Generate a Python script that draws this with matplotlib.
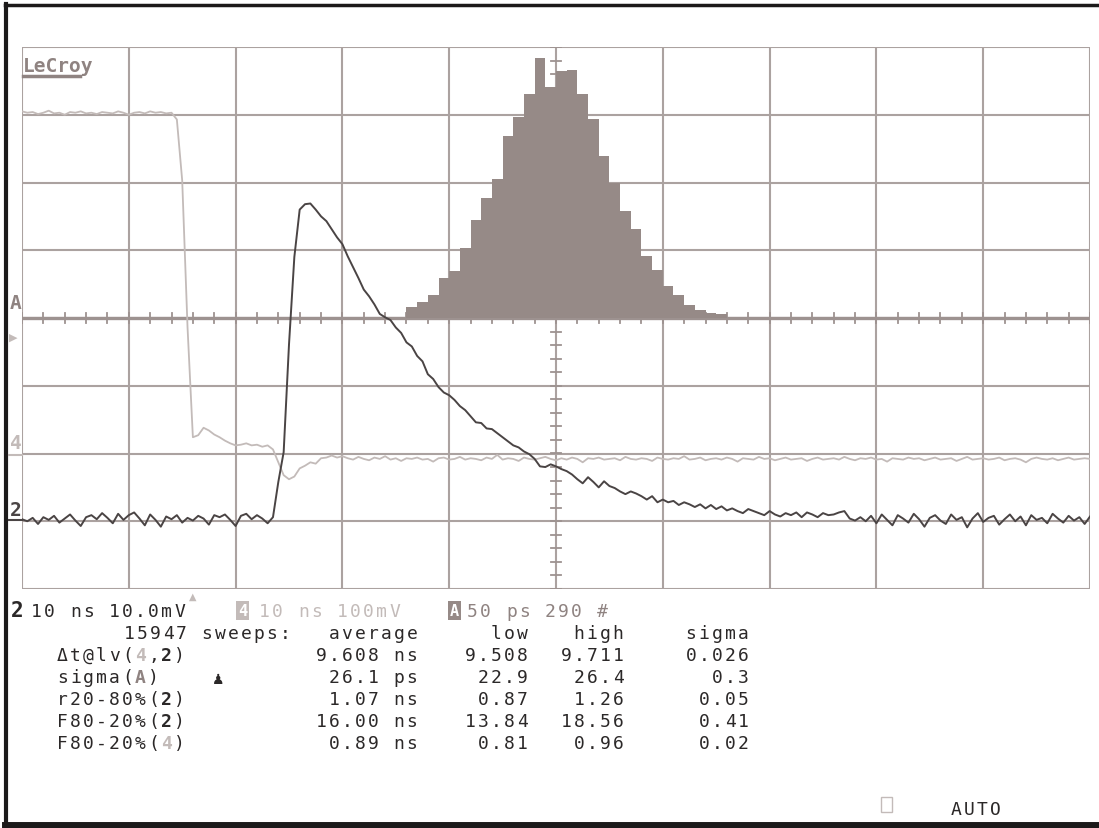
import numpy as np
import matplotlib.pyplot as plt
from matplotlib.lines import Line2D

W, H, DPI = 1099, 829, 100
MONO = "DejaVu Sans Mono"

# channel 2 (10 mV/div) and channel 4 (100 mV/div), one sample every 0.5 ns
T_STEP_NS = 0.5
ch2_mv = [
    # baseline before the pulse
    0.3, 0.0, 0.5, -0.4, 0.6, 0.2, 0.8, -0.2, 0.4, 1.0,
    0.1, -0.7, 0.6, 0.9, 0.3, 1.2, 0.5, -0.3, 1.1, 0.2,
    0.9, 1.3, 0.4, -0.6, 1.0, 0.2, -0.8, 0.7, 0.3, 0.9,
    -0.2, 0.5, 0.1, 0.8, 0.4, -0.5, 0.9, 0.6, 1.0, 0.2,
    -0.7, 0.8, 1.1, 0.3, 0.9, 0.4, -0.3,
    # rise, peak and decay
    0.6, 5.8, 10.2, 26.1, 39.0, 46.0, 46.8, 46.9, 46.0, 45.0,
    44.3, 43.1, 41.9, 40.9, 39.1, 37.5, 35.9, 34.2, 33.2, 32.0,
    30.6, 30.1, 29.7, 28.6, 27.8, 26.4, 25.8, 24.4, 23.6, 21.7,
    21.0, 19.8, 19.0, 18.6, 17.9, 17.0, 16.4, 15.5, 14.6, 14.5,
    13.7, 13.6, 13.0, 12.4, 11.8, 11.2, 10.9, 10.3, 9.9, 9.2,
    8.1, 8.0, 8.4, 8.1, 7.7, 7.4, 6.9, 6.2, 5.6, 6.5,
    5.8, 5.0, 5.9, 5.2, 4.9, 4.4, 4.0, 4.4, 4.1, 3.7,
    3.2, 3.7, 2.8, 3.2, 2.8, 3.0, 2.4, 2.8, 2.5, 2.1,
    2.5, 1.9, 2.4, 1.8, 2.2, 1.6, 1.9, 1.5, 1.2, 1.8,
    1.5, 1.2, 0.9, 1.5, 1.0, 0.7, 1.2, 0.9, 1.3, 0.6,
    1.3, 1.0, 0.6, 1.2, 0.9, 1.0, 1.3, 1.5, 0.4, 0.1,
    0.6, 0.0,
    # baseline after the pulse
    0.8, -0.3, 1.0, 0.2, -0.6, 0.9, 0.4, -0.2, 1.1, 0.3,
    -0.8, 0.5, 0.9, 0.1, -0.4, 1.0, 0.2, 0.6, -0.9, 0.4,
    1.2, -0.1, 0.5, 0.8, -0.5, 0.3, 1.0, 0.0, 0.7, -0.6,
    0.9, 0.2, 0.5, -0.3, 1.1, 0.4, -0.2, 0.8, 0.1, 0.6,
    -0.4, 0.7,
]
ch4_mv = [
    505, 503, 504, 501, 503, 506, 502, 503, 500, 504,
    503, 505, 502, 503, 501, 504, 503, 502, 505, 503,
    500, 503, 504, 502, 505, 503, 504, 502,
    # falling edge and undershoot
    503, 493, 403, 186, 24, 27, 38, 34, 28, 24,
    19, 15, 12, 13, 15, 12, 13, 10, 12, 6,
    -13, -32, -38, -34, -22, -18, -13, -15, -7, -6,
    -3, -6, -4,
    # settled level
    -7, -9, -5, -8, -10, -6, -8, -4, -9, -7,
    -11, -7, -8, -6, -9, -8, -12, -7, -6, -9,
    -8, -5, -9, -7, -8, -10, -6, -8, -2, -9,
    -7, -8, -11, -6, -8, -9, -7, -5, -8, -10,
    -7, -9, -6, -8, -13, -7, -8, -6, -9, -8,
    -7, -10, -5, -8, -9, -7, -8, -11, -6, -8,
    -9, -7, -8, -4, -9, -8, -6, -10, -8, -7,
    -9, -6, -8, -12, -7, -8, -9, -5, -8, -7,
    -10, -8, -6, -9, -8, -7, -11, -8, -6, -9,
    -8, -7, -9, -5, -8, -10, -7, -8, -6, -9,
    -8, -12, -7, -8, -9, -6, -8, -7, -10, -8,
    -6, -9, -8, -7, -11, -8, -5, -9, -8, -7,
    -9, -8, -6, -10, -8, -7, -9, -13, -8, -6,
    -8, -9, -7, -10, -8, -6, -9, -8, -7, -8,
]

# histogram of delta t (trace A): 5 ps bins, 50 ps/div, 290 counts/div
hist_first_ps = 9530
hist_bin_ps = 5
hist_counts = [47, 68, 98, 171, 200, 298, 418, 512, 593, 780,
               861, 960, 1113, 989, 1058, 1062, 960, 853, 695, 580,
               460, 380, 264, 205, 136, 98, 55, 34, 21, 17]

# measurement table
col_heads = ["average", "low", "high", "sigma"]
avg_vals = ["9.608 ns", "26.1 ps", "1.07 ns", "16.00 ns", "0.89 ns"]
low_vals = ["9.508", "22.9", "0.87", "13.84", "0.81"]
high_vals = ["9.711", "26.4", "1.26", "18.56", "0.96"]
sig_vals = ["0.026", "0.3", "0.05", "0.41", "0.02"]

GRID = "#aba2a0"
AXIS = "#9d9290"
HIST = "#968a87"
C2 = "#4a4444"
C4 = "#c3bbb9"
TXT = "#2b2828"
CA = "#8f8381"

fig = plt.figure(figsize=(W / DPI, H / DPI), dpi=DPI)
fig.patch.set_facecolor("white")


def fx(x):
    return x / W


def fy(y):
    return 1 - y / H


# screen area of the scope: 10 x 8 divisions
ax = fig.add_axes([fx(22), fy(590), (1090 - 22) / W, (590 - 48) / H])
ax.set_xlim(0, 100)
ax.set_ylim(-4, 4)
ax.axis("off")

for i in range(11):
    ax.axvline(i * 10, color=GRID, lw=1.5, zorder=1)
for j in range(-4, 5):
    ax.axhline(j, color=GRID, lw=1.5, zorder=1)
# centre cross with small ticks
ax.axhline(0, color=AXIS, lw=2.4, zorder=1)
for xt in np.arange(0, 100.1, 2):
    ax.plot([xt, xt], [-0.07, 0.07], color=AXIS, lw=1.3, zorder=1)
for yt in np.arange(-4, 4.01, 0.2):
    ax.plot([49.5, 50.5], [yt, yt], color=AXIS, lw=1.3, zorder=1)

# histogram, drawn over the grid
hist_left_ps = 9600 - 5 * 50
edges_ps = hist_first_ps + hist_bin_ps * np.arange(len(hist_counts))
ax.bar((edges_ps - hist_left_ps) / 50 * 10, np.array(hist_counts) / 290,
       width=hist_bin_ps / 50 * 10, align="edge", color=HIST, lw=0, zorder=2)

t2 = np.arange(len(ch2_mv)) * T_STEP_NS
t4 = np.arange(len(ch4_mv)) * T_STEP_NS
ax.plot(t4, -2 + np.array(ch4_mv) / 100, color=C4, lw=1.3, zorder=3)
ax.plot(t2, -3 + np.array(ch2_mv) / 10, color=C2, lw=1.4, zorder=4)

# outer black frame (left, top, bottom)
for xs, ys, lw in [([6, 6], [5, 829], 3), ([5, 1099], [6, 6], 2.5), ([5, 1099], [826, 826], 5)]:
    fig.add_artist(Line2D([fx(v) for v in xs], [fy(v) for v in ys], color="#1c1a1a", lw=lw))

FS = 13
PITCH = 13.0


def mono(x, y, s, color=TXT, bold=False, fs=FS):
    # fixed-pitch text, one glyph per cell, like the scope's screen font
    for i, ch in enumerate(s):
        if ch != " ":
            fig.text(fx(x + (i + 0.5) * PITCH), fy(y), ch, family=MONO, fontsize=fs,
                     color=color, fontweight="bold" if bold else "normal",
                     ha="center", va="baseline")
    return x + len(s) * PITCH


def mono_right(xr, y, s, color=TXT):
    # last glyph centred 5 px left of xr
    mono(xr - 5 - (len(s) - 0.5) * PITCH, y, s, color)


def segs(x, y, parts):
    for s, col, bold in parts:
        x = mono(x, y, s, col, bold)


def box_text(x, y, s, face):
    fig.text(fx(x), fy(y), s, family=MONO, fontsize=FS - 2, color="white",
             fontweight="bold", va="baseline",
             bbox=dict(boxstyle="square,pad=0.12", fc=face, ec="none"))


# logo and left-side channel markers
fig.text(fx(23), fy(72), "LeCroy", family=MONO, fontsize=14, fontweight="bold", color=CA)
fig.add_artist(Line2D([fx(23), fx(80)], [fy(77), fy(77)], color=CA, lw=2.5))
fig.text(fx(10), fy(309), "A", family=MONO, fontsize=14, fontweight="bold", color=CA)
fig.text(fx(9), fy(341), "▶", family="DejaVu Sans", fontsize=8, color=C4)
fig.text(fx(10), fy(449), "4", family=MONO, fontsize=14, fontweight="bold", color=C4)
fig.add_artist(Line2D([fx(9), fx(22)], [fy(456), fy(456)], color=C4, lw=1.5))
fig.text(fx(10), fy(516), "2", family=MONO, fontsize=14, fontweight="bold", color=C2)
fig.add_artist(Line2D([fx(9), fx(22)], [fy(521), fy(521)], color=C2, lw=1.5))
fig.text(fx(193), fy(600), "▲", family="DejaVu Sans", fontsize=7, color=C4, ha="center")

# channel setup line
fig.text(fx(11), fy(617), "2", family=MONO, fontsize=FS + 2, fontweight="bold", color=TXT)
mono(30, 617, "10 ns 10.0mV")
box_text(238, 616, "4", C4)
mono(258, 617, "10 ns 100mV", C4)
box_text(450, 616, "A", HIST)
mono(466, 617, "50 ps 290 #", CA)

# statistics table
row_base = [661, 683, 705, 727, 749]
col_right = [417, 527, 623, 748]
mono_right(290, 639, "15947 sweeps:")
for head, xr in zip(col_heads, col_right):
    mono_right(xr, 639, head)

labels = [
    [("Δt@lv(", TXT, False), ("4", C4, True), (",", TXT, False), ("2", TXT, True), (")", TXT, False)],
    [("sigma(", TXT, False), ("A", CA, True), (")", TXT, False)],
    [("r20-80%(", TXT, False), ("2", TXT, True), (")", TXT, False)],
    [("F80-20%(", TXT, False), ("2", TXT, True), (")", TXT, False)],
    [("F80-20%(", TXT, False), ("4", C4, True), (")", TXT, False)],
]
for yb, lab, a, lo, hi, sg in zip(row_base, labels, avg_vals, low_vals, high_vals, sig_vals):
    segs(56, yb, lab)
    for s, xr in zip([a, lo, hi, sg], col_right):
        mono_right(xr, yb, s)
fig.text(fx(218), fy(684), "♟", family="DejaVu Sans", fontsize=10, color=TXT, ha="center")

# trigger mode
fig.add_artist(plt.Rectangle((fx(881), fy(813)), 11 / W, 15 / H, transform=fig.transFigure,
                             fill=False, ec=C4, lw=1))
mono(950, 815, "AUTO")

fig.savefig("out.png", dpi=DPI)
